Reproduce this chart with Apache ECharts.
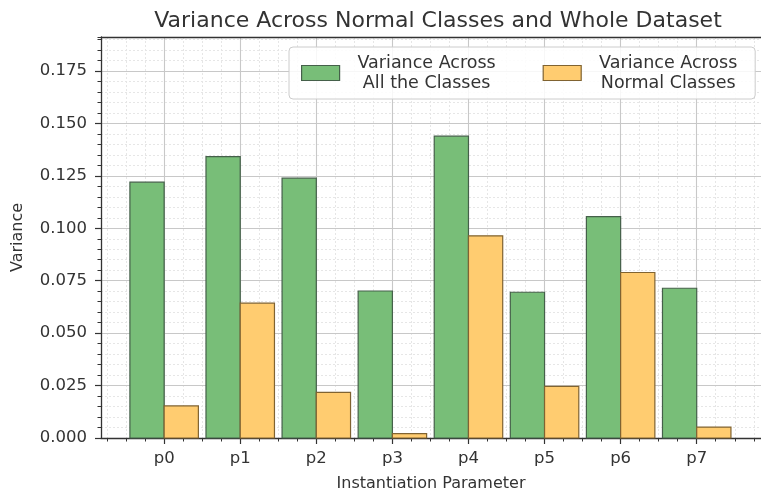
<!DOCTYPE html>
<html>
<head>
<meta charset="utf-8">
<script src="https://cdn.jsdelivr.net/npm/echarts@6/dist/echarts.min.js"></script>
<style>
  html, body { margin: 0; padding: 0; background: #ffffff; }
  #chart { width: 761px; height: 497px; }
</style>
</head>
<body>
<div id="chart"></div>
<script>
// Instantiation parameters and their variances
const categories = ['p0', 'p1', 'p2', 'p3', 'p4', 'p5', 'p6', 'p7'];
const allClassesVar = [0.1220, 0.1342, 0.1239, 0.0701, 0.1439, 0.0695, 0.1056, 0.0714];
const normalClassesVar = [0.0153, 0.0643, 0.0218, 0.0021, 0.0964, 0.0246, 0.0789, 0.0052];
const yTickValues = [0, 0.025, 0.05, 0.075, 0.1, 0.125, 0.15, 0.175];

const X_MIN = -0.83, X_MAX = 7.845;
const Y_MAX = 0.1912;
const BAR_W = 0.45;
const FONT = 'DejaVu Sans';

const majorX = categories.map((_, i) => i);
const minorX = [];
for (let q = -3; q <= 31; q++) { if (q % 4 !== 0) minorX.push(q / 4); }

const green = '#78be78', greenEdge = '#45604a';
const orange = '#ffcc70', orangeEdge = '#806331';
const ink = '#333333';

function barRenderer(offset) {
  return function (params, api) {
    const x = api.value(0), y = api.value(1);
    const p1 = api.coord([x + offset - BAR_W / 2, y]);
    const p2 = api.coord([x + offset + BAR_W / 2, 0]);
    return {
      type: 'rect',
      shape: { x: p1[0], y: p1[1], width: p2[0] - p1[0], height: p2[1] - p1[1] },
      style: api.style()
    };
  };
}

const chart = echarts.init(document.getElementById('chart'), null, { renderer: 'canvas' });
chart.setOption({
  animation: false,
  backgroundColor: '#ffffff',
  textStyle: { fontFamily: FONT },
  title: {
    text: 'Variance Across Normal Classes and Whole Dataset',
    left: 433, top: 5, textAlign: 'center',
    textStyle: { fontFamily: FONT, fontSize: 22, fontWeight: 'normal', color: ink }
  },
  legend: {
    left: 289, top: 47,
    padding: [7, 5, 7, 12],
    itemWidth: 38, itemHeight: 15, itemGap: 34,
    icon: 'rect',
    backgroundColor: 'rgba(255,255,255,0.85)',
    borderColor: '#cccccc', borderWidth: 1, borderRadius: 4,
    data: [
      { name: 'Variance Across\nAll the Classes', itemStyle: { color: green, borderColor: greenEdge, borderWidth: 1.2 } },
      { name: 'Variance Across\nNormal Classes', itemStyle: { color: orange, borderColor: orangeEdge, borderWidth: 1.2 } }
    ],
    formatter: function (name) {
      return name.split('\n').map(l => '{t|' + l + '}').join('\n');
    },
    textStyle: {
      fontFamily: FONT, fontSize: 17, color: ink,
      rich: { t: { width: 164, align: 'center', fontFamily: FONT, fontSize: 17.5, lineHeight: 20, color: ink } }
    }
  },
  grid: {
    left: 101, top: 37, width: 663, height: 404,
    show: false
  },
  xAxis: [
    {
      type: 'value', min: X_MIN, max: X_MAX, position: 'bottom',
      name: 'Instantiation Parameter', nameLocation: 'middle', nameGap: 38,
      nameTextStyle: { fontFamily: FONT, fontSize: 16, color: ink },
      axisLine: { show: true, onZero: false, lineStyle: { color: ink, width: 1.3 } },
      axisTick: { show: true, customValues: majorX, length: 6, lineStyle: { color: ink, width: 1.2 } },
      axisLabel: {
        customValues: majorX, margin: 12,
        formatter: v => categories[Math.round(v)] || '',
        fontFamily: FONT, fontSize: 16.5, color: ink
      },
      splitLine: { show: true, customValues: majorX, lineStyle: { color: '#c8c8c8', width: 1.1 } },
      z: 3
    },
    {
      type: 'value', min: X_MIN, max: X_MAX, position: 'bottom',
      axisLine: { show: false, onZero: false },
      axisTick: { show: true, customValues: minorX, length: 3.5, lineStyle: { color: ink, width: 1 } },
      axisLabel: { show: false, customValues: minorX },
      splitLine: { show: true, customValues: minorX, lineStyle: { color: '#e6e6e6', width: 1, type: [2, 2] } },
      z: 2
    },
    {
      // top frame line of the plot area
      type: 'value', min: X_MIN, max: X_MAX, position: 'top',
      axisLine: { show: true, onZero: false, lineStyle: { color: ink, width: 1.3 } },
      axisTick: { show: false }, axisLabel: { show: false }, splitLine: { show: false },
      z: 6
    }
  ],
  yAxis: [
    {
      type: 'value', min: 0, max: Y_MAX, interval: 0.025, position: 'left',
      name: 'Variance', nameLocation: 'middle', nameGap: 75,
      nameTextStyle: { fontFamily: FONT, fontSize: 16, color: ink },
      axisLine: { show: true, onZero: false, lineStyle: { color: ink, width: 1.3 } },
      axisTick: { show: true, customValues: yTickValues, length: 6, lineStyle: { color: ink, width: 1.2 } },
      axisLabel: {
        customValues: yTickValues, margin: 14,
        formatter: v => v.toFixed(3),
        fontFamily: FONT, fontSize: 16.5, color: ink
      },
      splitLine: { show: true, customValues: yTickValues, lineStyle: { color: '#c8c8c8', width: 1.1 } },
      z: 3
    },
    {
      type: 'value', min: 0, max: Y_MAX, interval: 0.005, position: 'left',
      axisLine: { show: false, onZero: false },
      axisTick: { show: true, length: 3.5, lineStyle: { color: ink, width: 1 } },
      axisLabel: { show: false },
      splitLine: { show: true, lineStyle: { color: '#e6e6e6', width: 1, type: [2, 2] } },
      z: 2
    }
  ],
  series: [
    {
      type: 'custom', name: 'Variance Across\nAll the Classes',
      xAxisIndex: 0, yAxisIndex: 0, z: 5,
      itemStyle: { color: green, borderColor: greenEdge, borderWidth: 1.2 },
      renderItem: barRenderer(-BAR_W / 2),
      encode: { x: 0, y: 1 },
      data: allClassesVar.map((v, i) => [i, v])
    },
    {
      type: 'custom', name: 'Variance Across\nNormal Classes',
      xAxisIndex: 0, yAxisIndex: 0, z: 5,
      itemStyle: { color: orange, borderColor: orangeEdge, borderWidth: 1.2 },
      renderItem: barRenderer(BAR_W / 2),
      encode: { x: 0, y: 1 },
      data: normalClassesVar.map((v, i) => [i, v])
    }
  ]
});
</script>
</body>
</html>
